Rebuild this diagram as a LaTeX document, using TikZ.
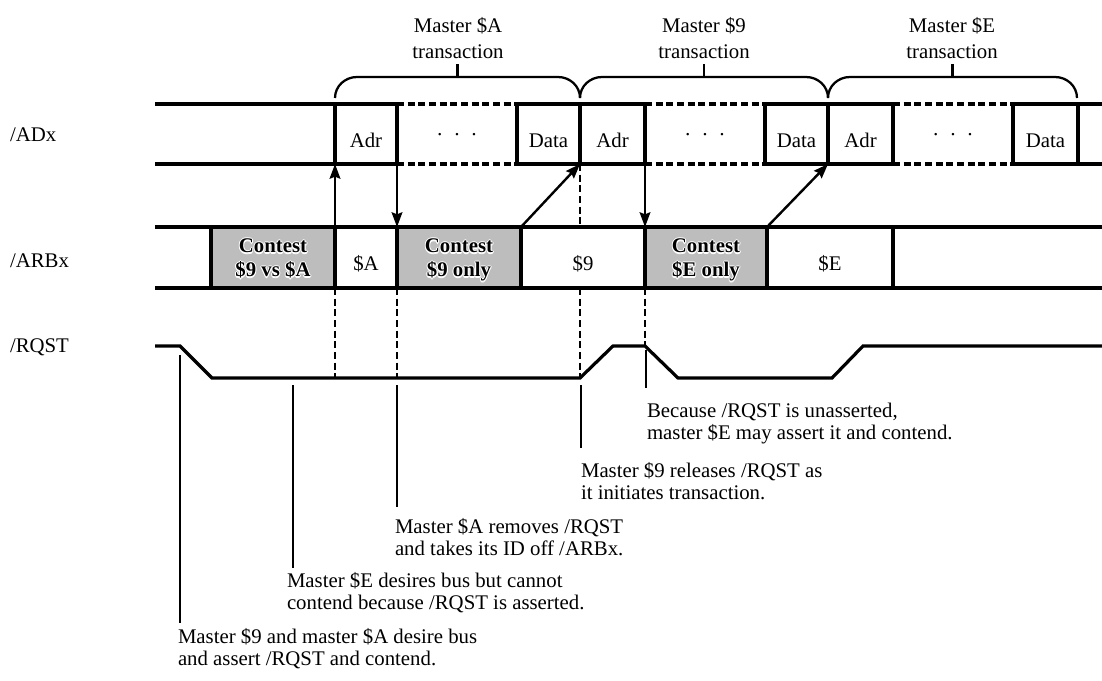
\documentclass[tikz,border=0pt]{standalone}
\usepackage{fontspec}
\setmainfont{Liberation Serif}
\usetikzlibrary{arrows.meta}

% white outline behind a piece of text
\newcommand\halo[1]{{\color{white}%
  \rlap{\kern.8pt#1}\rlap{\kern-.8pt#1}%
  \rlap{\raisebox{.8pt}{#1}}\rlap{\raisebox{-.8pt}{#1}}%
  \rlap{\kern.6pt\raisebox{.6pt}{#1}}\rlap{\kern-.6pt\raisebox{.6pt}{#1}}%
  \rlap{\kern.6pt\raisebox{-.6pt}{#1}}\rlap{\kern-.6pt\raisebox{-.6pt}{#1}}}#1}
% one line of cell text, baseline a little below the cell centre
\newcommand\onel[1]{\raisebox{-9.75pt}[0pt][0pt]{#1}}
% two outlined lines of cell text
\newcommand\twol[2]{\raisebox{3.4pt}[0pt][0pt]{\makebox[0pt]{\halo{#1}}}%
  \raisebox{-14.6pt}[0pt][0pt]{\makebox[0pt]{\halo{#2}}}}
\newcommand\bodyfont{\fontsize{15.6pt}{16.5pt}\selectfont}

\begin{document}
\begin{tikzpicture}[x=0.75pt,y=-0.75pt,
  txt/.style={font=\bodyfont, inner sep=0pt, outer sep=0pt},
  cell/.style={txt, draw, line width=2.5pt, minimum height=45pt},
  arbcell/.style={cell, minimum height=45.75pt},
  contest/.style={arbcell, fill=black!26, font=\bodyfont\bfseries},
  bus/.style={line width=2.5pt},
  busdash/.style={line width=2.5pt, dash pattern=on 5.3pt off 2.7pt},
  guide/.style={line width=1.6pt, dash pattern=on 5.3pt off 2.7pt},
  flow/.style={line width=1.8pt, -{Stealth[length=11pt,width=8pt,inset=1.5pt]}},
  callout/.style={line width=1.5pt},
  brace/.style={line width=1.7pt},
  wave/.style={line width=2.4pt, line join=miter},
  note/.style={txt, anchor=base west},
  title/.style={txt, anchor=base, font=\fontsize{15.6pt}{19.5pt}\selectfont}
]
\useasboundingbox (0,0) rectangle (1102,681);

% signal names
\node[note] (lADx) at (10,142) {/ADx};
\node[note] (lARBx) at (10,267) {/ARBx};
\node[note] (lRQST) at (10,352) {/RQST};

% ---------- /ADx bus ----------
\coordinate (adxT) at (155,104);  \coordinate (adxB) at (155,164);
\coordinate (adxTe) at (1102,104); \coordinate (adxBe) at (1102,164);
\draw[bus] (adxT) -- (397,104);
\draw[bus] (adxB) -- (397,164);

\node[cell, minimum width=46.5pt]  (adrA)  at (366,134)    {\onel{Adr}};
\node[cell, minimum width=47.25pt] (dataA) at (548.5,134)  {\onel{Data}};
\node[cell, minimum width=48.75pt] (adr9)  at (612.5,134)  {\onel{Adr}};
\node[cell, minimum width=47.25pt] (data9) at (796.5,134)  {\onel{Data}};
\node[cell, minimum width=48.75pt] (adrE)  at (860.5,134)  {\onel{Adr}};
\node[cell, minimum width=48.75pt] (dataE) at (1045.5,134) {\onel{Data}};

\foreach \a/\b in {adrA/dataA, adr9/data9, adrE/dataE}{
  \draw[busdash] (\a.north east) -- (\b.north west);
  \draw[busdash] (\a.south east) -- (\b.south west);
}
\draw[bus] (dataE.north east) -- (adxTe);
\draw[bus] (dataE.south east) -- (adxBe);

\node[txt] (dotsA) at (457,137) {·\hspace{7.7pt}·\hspace{7.7pt}·};
\node[txt] (dots9) at (705,137) {·\hspace{7.7pt}·\hspace{7.7pt}·};
\node[txt] (dotsE) at (953,137) {·\hspace{7.7pt}·\hspace{7.7pt}·};

% ---------- transaction braces ----------
\draw[brace] (335,98) to[out=90,in=180] (357,77) -- (558,77) to[out=0,in=90] (580,98);
\draw[brace] (580,98) to[out=90,in=180] (602,77) -- (806,77) to[out=0,in=90] (828,98);
\draw[brace] (828,98) to[out=90,in=180] (850,77) -- (1055,77) to[out=0,in=90] (1077,98);
\draw[brace] (457.5,77) -- (457.5,64);
\draw[brace] (704,77) -- (704,64);
\draw[brace] (952.5,77) -- (952.5,64);

\node[title] (tA) at (458,33) {\begin{tabular}[t]{@{}c@{}}Master \$A\\transaction\end{tabular}};
\node[title] (t9) at (704,33) {\begin{tabular}[t]{@{}c@{}}Master \$9\\transaction\end{tabular}};
\node[title] (tE) at (952,33) {\begin{tabular}[t]{@{}c@{}}Master \$E\\transaction\end{tabular}};

% ---------- /ARBx bus ----------
\draw[bus] (155,227) -- (211,227);
\draw[bus] (155,288) -- (211,288);

\node[contest, minimum width=93pt]   (c1) at (273,257.5) {\twol{Contest}{\$9 vs \$A}};
\node[arbcell, minimum width=46.5pt] (sA) at (366,257.5) {\onel{\$A}};
\node[contest, minimum width=93pt]   (c2) at (459,257.5) {\twol{Contest}{\$9 only}};
\node[arbcell, minimum width=93pt]   (s9) at (583,257.5) {\onel{\$9}};
\node[contest, minimum width=91.5pt] (c3) at (706,257.5) {\twol{Contest}{\$E only}};
\node[arbcell, minimum width=94.5pt] (sE) at (830,257.5) {\onel{\$E}};

\draw[bus] (sE.north east) -- (1102,227);
\draw[bus] (sE.south east) -- (1102,288);

% ---------- /RQST ----------
\coordinate (q0) at (155,346);
\coordinate (q1) at (180,346);
\coordinate (q2) at (212,378);
\coordinate (q3) at (580,378);
\coordinate (q4) at (613,346);
\coordinate (q5) at (645,346);
\coordinate (q6) at (678,378);
\coordinate (q7) at (832,378);
\coordinate (q8) at (863,346);
\coordinate (q9) at (1102,346);
\draw[wave] (q0) -- (q1) -- (q2) -- (q3) -- (q4) -- (q5) -- (q6) -- (q7) -- (q8) -- (q9);

% ---------- handoff arrows ----------
\draw[flow] (c1.north east) -- (adrA.south west);
\draw[flow] (adrA.south east) -- (c2.north west);
\draw[flow] (s9.north west) -- (dataA.south east);
\draw[flow] (adr9.south east) -- (c3.north west);
\draw[flow] (sE.north west) -- (data9.south east);

% ---------- dashed timing guides ----------
\draw[guide] (dataA.south east) -- (dataA.south east |- s9.north);
\draw[guide] (c1.south east) -- (c1.south east |- q3);
\draw[guide] (sA.south east) -- (sA.south east |- q3);
\draw[guide] (dataA.south east |- s9.south) -- (q3);
\draw[guide] (c3.south west) -- (q5);

% ---------- callouts ----------
\node[note] (n1) at (178,643) {\begin{tabular}[t]{@{}l@{}}Master \$9 and master \$A desire bus\\and assert /RQST and contend.\end{tabular}};
\node[note] (n2) at (287,587) {\begin{tabular}[t]{@{}l@{}}Master \$E desires bus but cannot\\contend because /RQST is asserted.\end{tabular}};
\node[note] (n3) at (395,533) {\begin{tabular}[t]{@{}l@{}}Master \$A removes /RQST\\and takes its ID off /ARBx.\end{tabular}};
\node[note] (n4) at (581,477) {\begin{tabular}[t]{@{}l@{}}Master \$9 releases /RQST as\\it initiates transaction.\end{tabular}};
\node[note] (n5) at (647,417) {\begin{tabular}[t]{@{}l@{}}Because /RQST is unasserted,\\master \$E may assert it and contend.\end{tabular}};

\coordinate (a1t) at (180,355); \coordinate (a1b) at (180,623);
\coordinate (a2t) at (293,385); \coordinate (a2b) at (293,568);
\coordinate (a3t) at (397,385); \coordinate (a3b) at (397,507);
\coordinate (a4t) at (581,385); \coordinate (a4b) at (581,448);
\coordinate (a5t) at (646,350); \coordinate (a5b) at (646,388);
\draw[callout] (a1t) -- (a1b);
\draw[callout] (a2t) -- (a2b);
\draw[callout] (a3t) -- (a3b);
\draw[callout] (a4t) -- (a4b);
\draw[callout] (a5t) -- (a5b);
\end{tikzpicture}
\end{document}
